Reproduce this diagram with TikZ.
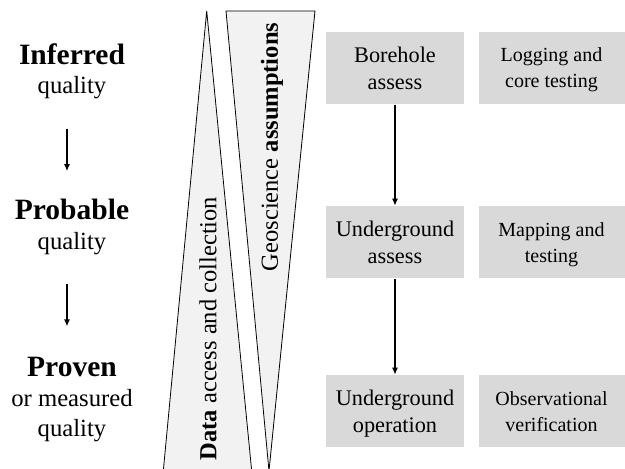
\documentclass[tikz,border=0pt]{standalone}
\usepackage{fontspec}
\setmainfont{Liberation Serif}
\usetikzlibrary{positioning, arrows.meta}
\tikzset{
    level/.style={align=center, inner sep=0pt, font=\fontsize{24.7}{29.7}\selectfont},
    stagebox/.style={fill=black!15, align=center, inner sep=0pt, text depth=0pt, minimum width=138pt, minimum height=72pt, font=\fontsize{22.3}{26.6}\selectfont},
    workbox/.style={fill=black!15, align=center, inner sep=0pt, text depth=0pt, minimum width=146pt, minimum height=72pt, font=\fontsize{20}{26}\selectfont},
    wedge/.style={draw, fill=black!5, line width=0.8pt},
    wedgetext/.style={rotate=90, inner sep=0pt, font=\fontsize{24.5}{29}\selectfont}
}

\begin{document}
\begin{tikzpicture}[x=1pt, y=1pt, >={Latex[length=7pt,width=6pt]}, line width=1.5pt]
  \clip (0,0) rectangle (625,469);

  % wedges
  \draw[wedge] (206.7,458) -- (252,-5) -- (163,-5) -- cycle;
  \draw[wedge] (226,458) -- (315,458) -- (269,-2) -- cycle;
  \node(DA)[wedgetext] at (208,140.5) {\textbf{Data} access and collection};
  \node(GA)[wedgetext] at (272,322) {Geoscience \textbf{assumptions}};

  % quality levels
  \node(INF)[level] at (72,397.8) {{\bfseries\fontsize{29.5}{29.7}\selectfont Inferred}\\quality};
  \node(PRB)[level] at (72,242) {{\bfseries\fontsize{29.5}{29.7}\selectfont Probable}\\quality};
  \node(PRV)[level] at (72,69.3) {{\bfseries\fontsize{29.5}{29.7}\selectfont Proven}\\or measured\\quality};

  \draw[->] ([xshift=-5pt,yshift=-29.1pt]INF.south) -- ([xshift=-5pt,yshift=27.3pt]PRB.north);
  \draw[->] ([xshift=-5pt,yshift=-28.3pt]PRB.south) -- ([xshift=-5pt,yshift=30.5pt]PRV.north);

  % stages
  \node(BA)[stagebox] at (395,401) {Borehole\\assess};
  \node(UA)[stagebox, below=101pt of BA] {Underground\\assess};
  \node(UO)[stagebox, below=95.5pt of UA] {Underground\\operation};

  \node(LC)[workbox, right=13pt of BA] {Logging and\\core testing};
  \node(MT)[workbox, right=13pt of UA] {Mapping and\\testing};
  \node(OV)[workbox, right=13pt of UO] {Observational\\verification};

  \draw[->] (BA) -- (UA);
  \draw[->] (UA) -- (UO);
\end{tikzpicture}
\end{document}
